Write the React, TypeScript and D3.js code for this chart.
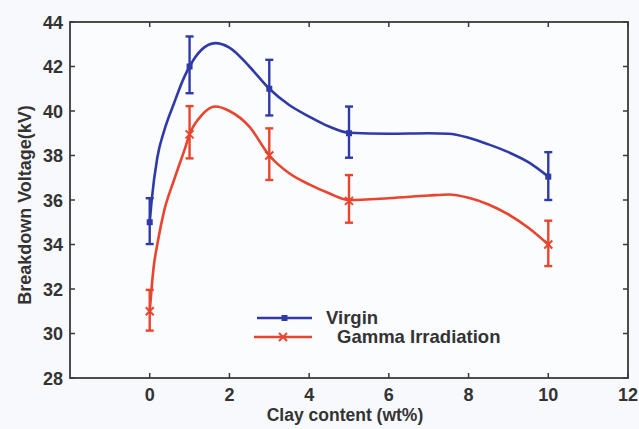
import React from "react";
import * as d3 from "d3";

// Measured points
const clay = [0, 1, 3, 5, 10];
const virginMean = [35, 42, 41, 39, 37.05];
const virginLow = [34.02, 40.8, 39.8, 37.9, 36.0];
const virginHigh = [36.08, 43.35, 42.3, 40.2, 38.15];
const gammaMean = [31, 38.95, 38.0, 35.96, 34.0];
const gammaLow = [30.13, 37.87, 36.9, 34.98, 33.03];
const gammaHigh = [31.96, 40.22, 39.22, 37.12, 35.07];

// Fitted curves
const virginCurveX = [0, 0.05, 0.19, 0.36, 0.61, 0.86, 1, 1.3, 1.65, 2, 2.5, 3, 3.5, 4, 4.5, 5, 6, 7, 7.5, 8, 8.5, 9, 9.5, 10];
const virginCurveY = [35, 36.0, 37.9, 39.1, 40.35, 41.5, 42, 42.75, 43.05, 42.85, 42.0, 41.0, 40.27, 39.75, 39.3, 39.02, 38.98, 39.0, 38.98, 38.8, 38.5, 38.15, 37.7, 37.05];
const gammaCurveX = [0, 0.1, 0.19, 0.36, 0.61, 0.9, 1, 1.3, 1.65, 2, 2.5, 3, 3.5, 4, 4.5, 5, 6, 7, 7.5, 8, 8.5, 9, 9.5, 10];
const gammaCurveY = [31, 33.0, 34.0, 35.5, 36.9, 38.4, 38.95, 39.8, 40.2, 40.0, 39.3, 38.0, 37.2, 36.7, 36.3, 36.0, 36.08, 36.2, 36.25, 36.1, 35.8, 35.35, 34.75, 34.0];

const xTicks = [0, 2, 4, 6, 8, 10, 12];
const yTicks = [28, 30, 32, 34, 36, 38, 40, 42, 44];

const BLUE = "#2f3aa8";
const RED = "#e8442e";
const FONT = "'Liberation Sans', Arial, sans-serif";

export default function App() {
  const W = 639, H = 429;
  const left = 70, right = 628, top = 22, bottom = 378;
  const x = d3.scaleLinear().domain([-2, 12]).range([left, right]);
  const y = d3.scaleLinear().domain([28, 44]).range([bottom, top]);
  const line = d3.line<[number, number]>().x(d => x(d[0])).y(d => y(d[1])).curve(d3.curveMonotoneX);
  const vPts = virginCurveX.map((v, i) => [v, virginCurveY[i]] as [number, number]);
  const gPts = gammaCurveX.map((v, i) => [v, gammaCurveY[i]] as [number, number]);
  const cap = 4;

  const errBars = (low: number[], high: number[], color: string) =>
    clay.map((c, i) => (
      <g key={i} stroke={color} strokeWidth={2.4} fill="none">
        <line x1={x(c)} x2={x(c)} y1={y(low[i])} y2={y(high[i])} />
        <line x1={x(c) - cap} x2={x(c) + cap} y1={y(low[i])} y2={y(low[i])} />
        <line x1={x(c) - cap} x2={x(c) + cap} y1={y(high[i])} y2={y(high[i])} />
      </g>
    ));

  const xMark = (cx: number, cy: number, k: string | number) => (
    <g key={k} stroke={RED} strokeWidth={2}>
      <line x1={cx - 4} x2={cx + 4} y1={cy - 4} y2={cy + 4} />
      <line x1={cx - 4} x2={cx + 4} y1={cy + 4} y2={cy - 4} />
    </g>
  );

  return (
    <div style={{ position: "fixed", left: 0, top: 0 }}>
      <svg width={W} height={H} style={{ display: "block", background: "#f8f9fc" }} fontFamily={FONT}>
        <rect x={0} y={0} width={W} height={H} fill="#f8f9fc" />
        <rect x={left} y={top} width={right - left} height={bottom - top} fill="#fbfcfe" />
        {/* curves */}
        <path d={line(vPts) || ""} fill="none" stroke={BLUE} strokeWidth={2.6} />
        <path d={line(gPts) || ""} fill="none" stroke={RED} strokeWidth={2.6} />
        {errBars(virginLow, virginHigh, BLUE)}
        {errBars(gammaLow, gammaHigh, RED)}
        {clay.map((c, i) => (
          <rect key={"v" + i} x={x(c) - 3} y={y(virginMean[i]) - 3} width={6} height={6} fill={BLUE} />
        ))}
        {clay.map((c, i) => xMark(x(c), y(gammaMean[i]), "g" + i))}
        {/* frame */}
        <rect x={left} y={top} width={right - left} height={bottom - top} fill="none" stroke="#3a3a3a" strokeWidth={1.8} />
        {xTicks.map(t => (
          <g key={"xt" + t} stroke="#3a3a3a" strokeWidth={1.5}>
            <line x1={x(t)} x2={x(t)} y1={bottom} y2={bottom - 5} />
            <line x1={x(t)} x2={x(t)} y1={top} y2={top + 5} />
          </g>
        ))}
        {yTicks.map(t => (
          <g key={"yt" + t} stroke="#3a3a3a" strokeWidth={1.5}>
            <line x1={left} x2={left + 5} y1={y(t)} y2={y(t)} />
            <line x1={right} x2={right - 5} y1={y(t)} y2={y(t)} />
          </g>
        ))}
        {xTicks.map(t => (
          <text key={"xl" + t} x={x(t)} y={401} textAnchor="middle" fontSize={18} fontWeight="bold" fill="#333">{t}</text>
        ))}
        {yTicks.map(t => (
          <text key={"yl" + t} x={63} y={y(t) + 6.5} textAnchor="end" fontSize={18} fontWeight="bold" fill="#333">{t}</text>
        ))}
        <text x={345} y={421} textAnchor="middle" fontSize={17.5} fontWeight="bold" fill="#333">Clay content (wt%)</text>
        <text transform="translate(31,205) rotate(-90)" textAnchor="middle" fontSize={18} fontWeight="bold" fill="#333">Breakdown Voltage(kV)</text>
        {/* legend */}
        <line x1={257} x2={312} y1={318} y2={318} stroke={BLUE} strokeWidth={2.6} />
        <rect x={281.5} y={315} width={6} height={6} fill={BLUE} />
        <line x1={254} x2={312} y1={337} y2={337} stroke={RED} strokeWidth={2.6} />
        {xMark(283, 337, "lg")}
        <text x={326} y={324} fontSize={18.5} fontWeight="bold" fill="#333">Virgin</text>
        <text x={337} y={343} fontSize={18.5} fontWeight="bold" fill="#333">Gamma Irradiation</text>
      </svg>
    </div>
  );
}
